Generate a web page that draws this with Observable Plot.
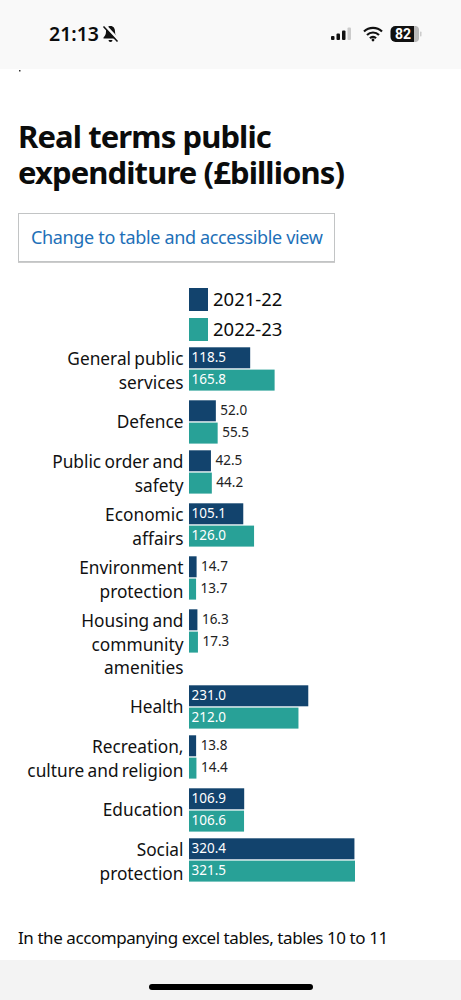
<!DOCTYPE html>
<html><head><meta charset="utf-8">
<script src="https://cdn.jsdelivr.net/npm/d3@7"></script>
<script src="https://cdn.jsdelivr.net/npm/@observablehq/plot@0.6"></script>
<style>
html,body{margin:0;padding:0;background:#fff;overflow:hidden}
#page{position:relative;width:461px;height:1000px;overflow:hidden;font-family:"Noto Sans",sans-serif;color:#0b0c0c}
#page>*{position:absolute}
#status{left:0;top:0;width:461px;height:69px;background:#f9f9f9}
#time{left:49px;top:21px;font-size:19.5px;font-weight:600;line-height:26px}
#bottom{left:0;top:960px;width:461px;height:40px;background:#f3f3f3}
#home{left:149px;top:984px;width:164px;height:6px;border-radius:3px;background:#000}
h1{margin:0;left:18px;top:118px;font-size:31px;line-height:36px;font-weight:700;letter-spacing:-.9px;white-space:nowrap}
#btn{left:18px;top:213px;width:315px;height:47px;border:1.5px solid #c2c4c5;box-shadow:0 1px 0 #ccc;color:#1d70b8;font-size:18px;letter-spacing:-.34px;line-height:47px;text-indent:12px;white-space:nowrap}
.sw{left:189px;width:19px;height:23px}
.lg{left:213px;font-size:18.5px;line-height:24px}
#foot{left:18px;top:925px;font-size:17px;letter-spacing:-.43px;line-height:26px;white-space:nowrap}
#chart{left:0;top:345px}
</style></head><body>
<div id="page">
<div id="status"></div>
<div id="time">21:13</div>
<svg style="left:101px;top:24px" width="19" height="20" viewBox="0 0 19 20"><path d="M9.500 2c-3 0-4.500 2.400-4.500 5.500 0 3-1 4.500-2.500 6v1h14v-1c-1.500-1.500-2.500-3-2.500-6C14 4.400 12.500 2 9.500 2zM7.500 16a2 2 0 0 0 4 0z" fill="#111"/><path d="M4 1.500 17.500 16" stroke="#f9f9f9" stroke-width="3"/><path d="M2.500 2.500 16.500 17.500" stroke="#111" stroke-width="1.600"/></svg>
<svg style="left:330px;top:26px" width="24" height="16" viewBox="0 0 24 16"><rect x="1" y="10" width="3.500" height="4" rx="1" fill="#111"/><rect x="6.500" y="7.500" width="3.500" height="6.500" rx="1" fill="#111"/><rect x="12" y="4.500" width="3.500" height="9.500" rx="1" fill="#111"/><rect x="17.500" y="1.500" width="3.500" height="12.500" rx="1" fill="#ccc"/></svg>
<svg style="left:362px;top:26px" width="22" height="16" viewBox="0 0 22 16"><path d="M2 5.500a13 13 0 0 1 18 0M5 9a8.500 8.500 0 0 1 12 0M8 12.300a4 4 0 0 1 6 0" fill="none" stroke="#111" stroke-width="2.200"/><circle cx="11" cy="14" r="1.400" fill="#111"/></svg>
<svg style="left:390px;top:25px" width="33" height="18" viewBox="0 0 33 18"><rect x="0.500" y="1" width="28" height="16" rx="5" fill="#111"/><path d="M24 1h1a4 4 0 0 1 4 4v8a4 4 0 0 1-4 4h-1z" fill="#bbb"/><rect x="30" y="6.500" width="1.500" height="5" rx=".7" fill="#ccc"/><text x="13" y="14" font-size="14" font-weight="700" fill="#fff" text-anchor="middle" font-family="Roboto">82</text></svg>
<svg style="left:19px;top:69px" width="3" height="4"><rect x="0" y="1" width="1.500" height="1.500" fill="#333"/></svg>
<h1>Real terms public<br>expenditure (£billions)</h1>
<div id="btn">Change to table and accessible view</div>
<div class="sw" style="top:288px;background:#12436d"></div>
<div class="lg" style="top:287px">2021-22</div>
<div class="sw" style="top:318px;background:#28a197"></div>
<div class="lg" style="top:317px">2022-23</div>
<div id="chart"></div>
<div id="foot">In the accompanying excel tables, tables 10 to 11</div>
<div id="bottom"></div>
<div id="home"></div>
</div>
<script>
const categories = ["General public\nservices","Defence","Public order and\nsafety","Economic\naffairs","Environment\nprotection","Housing and\ncommunity\namenities","Health","Recreation,\nculture and religion","Education","Social\nprotection"];
const values2122 = [118.5,52.0,42.5,105.1,14.7,16.3,231.0,13.8,106.9,320.4];
const values2223 = [165.8,55.5,44.2,126.0,13.7,17.3,212.0,14.4,106.6,321.5];
const years = ["2021-22","2022-23"];
const colors = ["#12436d","#28a197"];

// Group height in the y scale depends on how many lines the label wraps to
const barH = 21, pitch = 22.3, lineH = 23.5, groupGap = 6;
let cursor = 2.3;
const groups = categories.map((c,i)=>{
  const lines = c.split("\n").length;
  const block = Math.max(44, lines*lineH);
  const g = {label:c, top:cursor, mid:cursor+block/2, i};
  cursor += block + groupGap - (lines === 3 ? 0.5 : 0);
  return g;
});
const bars = groups.flatMap(g=>[values2122[g.i],values2223[g.i]].map((v,k)=>({
  value:v, year:years[k], y1:g.top+k*pitch, y2:g.top+k*pitch+barH
})));
const isInside = d => d.value > 80;
const H = 545;
const font = '"Noto Sans",sans-serif';
const chart = Plot.plot({
  width:461, height:H, margin:0,
  style:{background:"transparent",fontFamily:font,wordSpacing:"-1.200px"},
  x:{domain:[0,321.5],range:[189,355],axis:null},
  y:{domain:[0,H],range:[0,H],axis:null},
  color:{domain:years,range:colors},
  marks:[
    Plot.rect(bars,{x1:()=>0,x2:"value",y1:"y1",y2:"y2",fill:"year"}),
    Plot.text(bars.filter(isInside),{x:()=>0,y:d=>(d.y1+d.y2)/2,text:d=>d.value.toFixed(1),textAnchor:"start",dx:2,dy:-0.5,fill:"#fff",fontSize:13.5}),
    Plot.text(bars.filter(d=>!isInside(d)),{x:"value",y:d=>(d.y1+d.y2)/2,text:d=>d.value.toFixed(1),textAnchor:"start",dx:4,dy:-0.5,fill:"#222",fontSize:13.5}),
    Plot.text(groups,{x:()=>0,y:"mid",text:"label",textAnchor:"end",dx:-6,dy:-2,lineAnchor:"middle",lineHeight:lineH/17.3,fontSize:17.3,fill:"#111"})
  ]
});
document.getElementById("chart").appendChild(chart);
</script>
</body></html>
